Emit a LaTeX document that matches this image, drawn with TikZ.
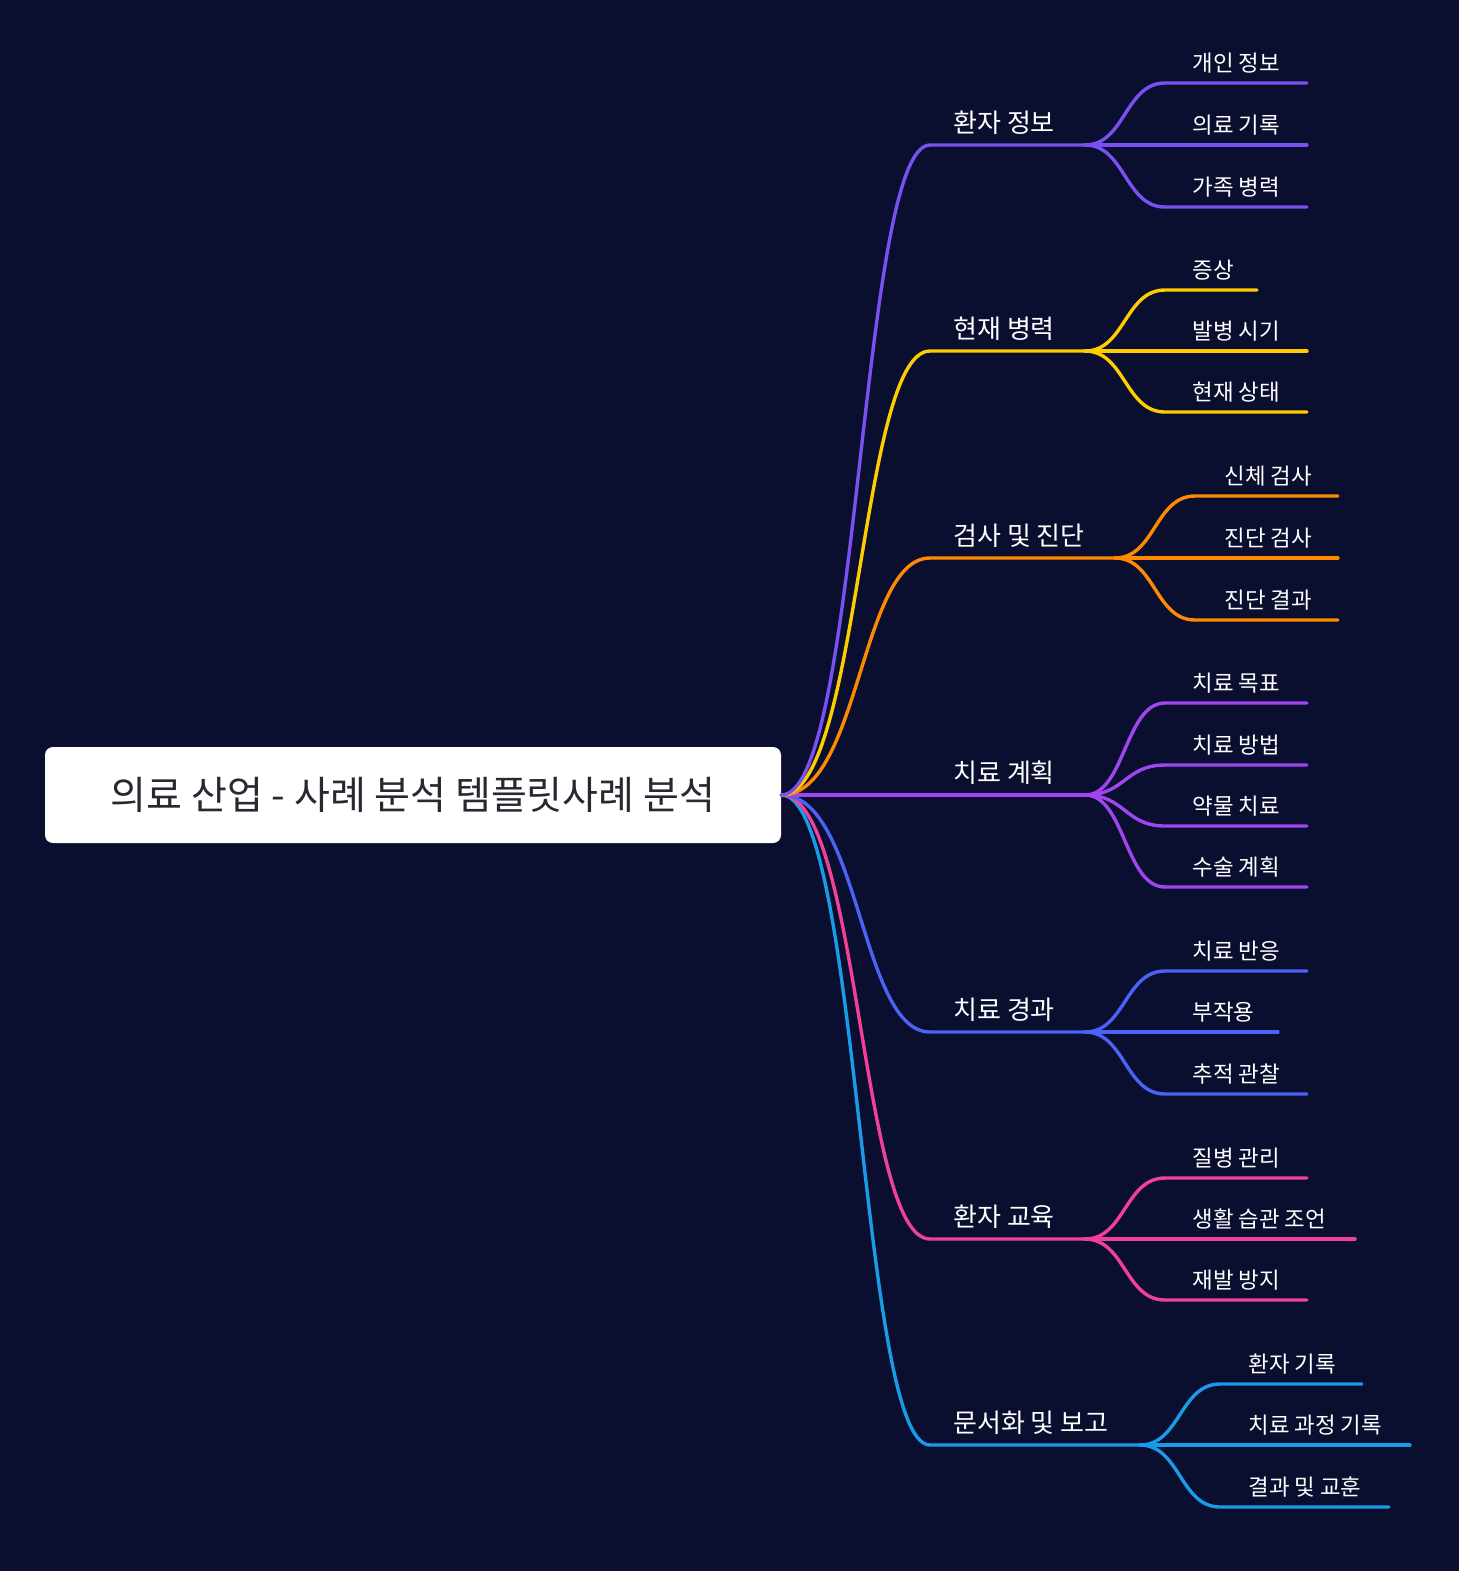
\documentclass[tikz,border=0pt]{standalone}
\usepackage{fontspec}
\setmainfont{Noto Sans CJK KR}
\definecolor{bg}{HTML}{0A0E2F}
\definecolor{c1}{HTML}{7950F2}
\definecolor{c2}{HTML}{FFCC00}
\definecolor{c3}{HTML}{FF8A00}
\definecolor{c4}{HTML}{A045F0}
\definecolor{c5}{HTML}{4C62F5}
\definecolor{c6}{HTML}{F0409A}
\definecolor{c7}{HTML}{1A9BE8}
\tikzset{
 edge/.style={line width=1.7pt, line cap=round},
 mainlbl/.style={anchor=south west, text=white, font=\fontsize{13}{15}\selectfont, inner sep=0pt},
 childlbl/.style={anchor=south west, text=white, font=\fontsize{11.2}{13}\selectfont, inner sep=0pt},
}
\newcommand{\mainbr}[5]{%
 \coordinate (#2s) at (930,#3);
 \coordinate (#2e) at (#4,#3);
 \draw[edge,#1] (root.east) .. controls (860,795) and (860,#3) .. (#2s) -- (#2e);
 \node[mainlbl] (#2l) at (953,#3-10) {#5};}
\newcommand{\childbr}[8]{%
 \coordinate (#3s) at (#5,#4);
 \coordinate (#3e) at (#6,#4);
 \draw[edge,#1] (#2e) .. controls ($(#2e)+(40,0)$) and ($(#3s)+(-40,0)$) .. (#3s) -- (#3e);
 \node[childlbl] (#3l) at (#8,#4-9) {#7};}
\usetikzlibrary{calc}
\begin{document}
\begin{tikzpicture}[x=0.5pt,y=-0.5pt]
\fill[bg] (0,0) rectangle (1459,1571);
\useasboundingbox (0,0) rectangle (1459,1571);
\node[fill=white, rounded corners=4pt, minimum width=368pt, minimum height=48pt, inner sep=0pt,
 text={rgb,255:red,40;green,40;blue,50}, font=\fontsize{19.5}{22}\selectfont] (root) at (413,795) {의료 산업 - 사례 분석 템플릿사례 분석};
\mainbr{c7}{g}{1445}{1140}{문서화 및 보고}
\mainbr{c6}{f}{1239}{1085}{환자 교육}
\mainbr{c5}{e}{1032}{1085}{치료 경과}
\mainbr{c4}{d}{795}{1085}{치료 계획}
\mainbr{c3}{c}{558}{1115}{검사 및 진단}
\mainbr{c2}{b}{351}{1085}{현재 병력}
\mainbr{c1}{a}{145}{1085}{환자 정보}
\childbr{c1}{a}{a1}{83}{1165}{1307}{개인 정보}{1192}
\childbr{c1}{a}{a2}{145}{1165}{1307}{의료 기록}{1192}
\childbr{c1}{a}{a3}{207}{1165}{1307}{가족 병력}{1192}
\childbr{c2}{b}{b1}{290}{1165}{1257}{증상}{1192}
\childbr{c2}{b}{b2}{351}{1165}{1307}{발병 시기}{1192}
\childbr{c2}{b}{b3}{412}{1165}{1307}{현재 상태}{1192}
\childbr{c3}{c}{c1n}{496}{1195}{1338}{신체 검사}{1224}
\childbr{c3}{c}{c2n}{558}{1195}{1338}{진단 검사}{1224}
\childbr{c3}{c}{c3n}{620}{1195}{1338}{진단 결과}{1224}
\childbr{c4}{d}{d1}{703}{1165}{1307}{치료 목표}{1192}
\childbr{c4}{d}{d2}{765}{1165}{1307}{치료 방법}{1192}
\childbr{c4}{d}{d3}{826}{1165}{1307}{약물 치료}{1192}
\childbr{c4}{d}{d4}{887}{1165}{1307}{수술 계획}{1192}
\childbr{c5}{e}{e1}{971}{1165}{1307}{치료 반응}{1192}
\childbr{c5}{e}{e2}{1032}{1165}{1278}{부작용}{1192}
\childbr{c5}{e}{e3}{1094}{1165}{1307}{추적 관찰}{1192}
\childbr{c6}{f}{f1}{1178}{1165}{1307}{질병 관리}{1192}
\childbr{c6}{f}{f2}{1239}{1165}{1355}{생활 습관 조언}{1192}
\childbr{c6}{f}{f3}{1300}{1165}{1307}{재발 방지}{1192}
\childbr{c7}{g}{g1}{1384}{1220}{1362}{환자 기록}{1248}
\childbr{c7}{g}{g2}{1445}{1220}{1410}{치료 과정 기록}{1248}
\childbr{c7}{g}{g3}{1507}{1220}{1389}{결과 및 교훈}{1248}
\end{tikzpicture}
\end{document}
